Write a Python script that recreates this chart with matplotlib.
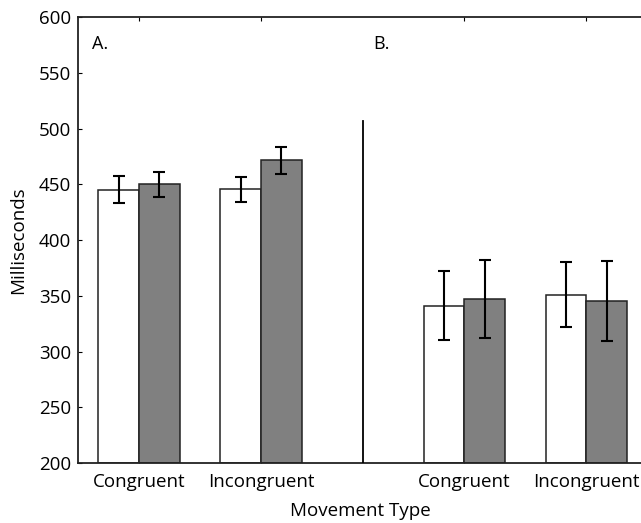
import matplotlib.pyplot as plt
import numpy as np

plt.rcParams["font.family"] = ["Open Sans", "DejaVu Sans"]

# group centres (bar-width units) and labels
centers = [0, 3, 8, 11]
categories = ["Congruent", "Incongruent", "Congruent", "Incongruent"]
white_vals = [445, 445.5, 341, 351]
white_err = [12, 11, 31, 29]
grey_vals = [450, 471.5, 347, 345]
grey_err = [11, 12, 35, 36]
panel_labels = ["A.", "B."]

fig = plt.figure(figsize=(6.41, 5.23), dpi=100)
ax = fig.add_axes([0.1217, 0.1147, 0.888, 0.8528])

x = np.array(centers, dtype=float)
ekw = dict(ecolor="black", elinewidth=1.5, capsize=4.5, capthick=1.5)
ax.bar(x - 0.5, np.array(white_vals) - 200, bottom=200, width=1, color="white",
       edgecolor="#222222", linewidth=1.1, yerr=white_err, error_kw=ekw, zorder=2)
ax.bar(x + 0.5, np.array(grey_vals) - 200, bottom=200, width=1, color="#808080",
       edgecolor="#222222", linewidth=1.1, yerr=grey_err, error_kw=ekw, zorder=2)

# divider between panels
ax.plot([5.5, 5.5], [200, 507], color="black", linewidth=1.3, zorder=3)

ax.text(-1.15, 576, panel_labels[0], fontsize=13, va="center")
ax.text(5.75, 576, panel_labels[1], fontsize=13, va="center")

ax.set_xlim(-1.5, 12.5)
ax.set_ylim(200, 600)
ax.set_yticks(np.arange(200, 601, 50))
ax.set_xticks(x)
ax.set_xticklabels(categories)
ax.tick_params(direction="in", top=True, right=True, labelsize=13.5, length=3,
               width=0.8)
ax.tick_params(axis="x", pad=7)
ax.tick_params(axis="y", pad=5)
for s in ax.spines.values():
    s.set_linewidth(1.3)
    s.set_color("#222222")

ax.set_ylabel("Milliseconds", fontsize=13.5, va="center")
ax.yaxis.set_label_coords(-(78 - 18) / 568, 0.5)
ax.set_xlabel("Movement Type", fontsize=13.5, va="center")
ax.xaxis.set_label_coords((360 - 78) / 568, -(511 - 463) / 446)

fig.savefig("out.png", dpi=100)
